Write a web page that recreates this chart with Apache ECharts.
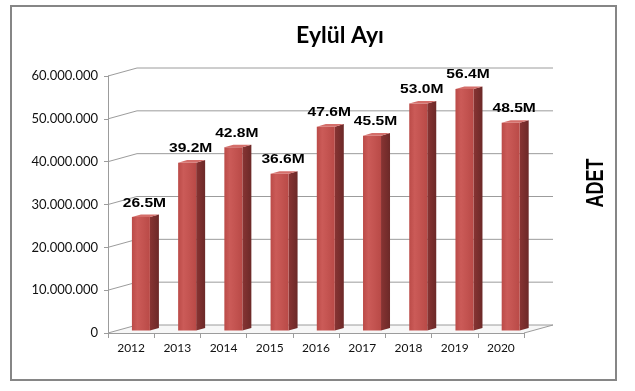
<!DOCTYPE html>
<html>
<head>
<meta charset="utf-8">
<script src="https://cdn.jsdelivr.net/npm/echarts@6/dist/echarts.min.js"></script>
<style>
html,body{margin:0;padding:0;background:#fff;}
#chart{width:635px;height:391px;}
</style>
</head>
<body>
<div id="chart"></div>
<script>
// ---- data ----
var years = ['2012','2013','2014','2015','2016','2017','2018','2019','2020'];
var values = [26500000, 39200000, 42800000, 36600000, 47600000, 45500000, 53000000, 56400000, 48500000];
var yTicks = [0, 10000000, 20000000, 30000000, 40000000, 50000000, 60000000];
var titleText = 'Eylül Ayı';
var axisName = 'ADET';

// ---- 3D look parameters ----
var DEPTH_X = 29, DEPTH_Y = -8;      // back wall offset
var BAR_SHIFT_X = 9.8, BAR_SHIFT_Y = -2.4; // bar front plane offset
var BAR_W = 18, SIDE_X = 9, SIDE_Y = -2.6;
var GRID_COLOR = '#9c9c9c';

function dotted(v){ return String(v).replace(/\B(?=(\d{3})+(?!\d))/g, '.'); }

var chart = echarts.init(document.getElementById('chart'), null, {renderer:'canvas'});

var option = {
  animation: false,
  backgroundColor: '#ffffff',
  grid: {left: 108, right: 111, top: 76, bottom: 58},
  xAxis: {
    type: 'category',
    data: years,
    axisLine: {show: true, lineStyle: {color: GRID_COLOR, width: 1}},
    axisTick: {show: true, length: 5, lineStyle: {color: GRID_COLOR}},
    axisLabel: {color: '#111', fontFamily: 'Lato', fontSize: 12, margin: 9},
    splitLine: {show: false}
  },
  yAxis: {
    type: 'value',
    min: 0, max: 60000000, interval: 10000000,
    axisLine: {show: true, lineStyle: {color: GRID_COLOR, width: 1}},
    axisTick: {show: true, length: 4, lineStyle: {color: GRID_COLOR}},
    axisLabel: {color: '#111', fontFamily: 'Lato', fontSize: 13, margin: 10,
      formatter: function(v){ return dotted(v); }},
    splitLine: {show: false}
  },
  graphic: [
    {type: 'rect', shape: {x: 11, y: 6, width: 605, height: 374},
     style: {fill: 'none', stroke: '#868686', lineWidth: 2}, silent: true},
    {type: 'text', x: 340, y: 36,
     style: {text: titleText, font: 'bold 23px Lato', fill: '#000', align: 'center', verticalAlign: 'middle'}},
    {type: 'text', x: 597, y: 183, rotation: Math.PI/2, scaleY: 1.3,
     style: {text: axisName, font: 'bold 18px "Liberation Sans"', fill: '#000', align: 'center', verticalAlign: 'middle'}}
  ],
  series: [
    {
      type: 'custom',
      name: 'walls',
      z: 1,
      clip: false,
      data: yTicks.map(function(v){ return [0, v]; }),
      renderItem: function(params, api){
        var v = api.value(1);
        var p = api.coord([0, v]);
        var bw = api.size([1, 0])[0];
        var xL = p[0] - bw/2;
        var xR = api.coord([years.length - 1, v])[0] + bw/2;
        var y = p[1];
        var children = [{
          type: 'polyline',
          shape: {points: [[xL, y], [xL + DEPTH_X, y + DEPTH_Y], [xR + DEPTH_X, y + DEPTH_Y]]},
          style: {stroke: GRID_COLOR, lineWidth: 1, fill: null}
        }];
        if (v === 0) {
          children.push({
            type: 'polygon',
            shape: {points: [[xL, y], [xL + DEPTH_X, y + DEPTH_Y], [xR + DEPTH_X, y + DEPTH_Y], [xR, y]]},
            style: {fill: '#f7f7f7', stroke: null}, z2: -1
          });
          children.push({
            type: 'line',
            shape: {x1: xR, y1: y, x2: xR + DEPTH_X, y2: y + DEPTH_Y},
            style: {stroke: GRID_COLOR, lineWidth: 1}
          });
        }
        return {type: 'group', children: children};
      }
    },
    {
      type: 'custom',
      name: 'bars',
      z: 3,
      clip: false,
      data: values.map(function(v, i){ return [i, v]; }),
      renderItem: function(params, api){
        var i = api.value(0), v = api.value(1);
        var top = api.coord([i, v]);
        var base = api.coord([i, 0]);
        var x0 = top[0] + BAR_SHIFT_X - BAR_W/2;
        var x1 = x0 + BAR_W;
        var yT = top[1] + BAR_SHIFT_Y;
        var yB = base[1] + BAR_SHIFT_Y;
        var label = (v / 1000000).toFixed(1) + 'M';
        return {
          type: 'group',
          children: [
            {type: 'polygon',
             shape: {points: [[x1, yT], [x1 + SIDE_X, yT + SIDE_Y], [x1 + SIDE_X, yB + SIDE_Y], [x1, yB]]},
             style: {fill: new echarts.graphic.LinearGradient(0, 0, 1, 0, [
               {offset: 0, color: '#883433'}, {offset: 1, color: '#6c2928'}])}},
            {type: 'rect',
             shape: {x: x0, y: yT, width: BAR_W, height: yB - yT},
             style: {fill: new echarts.graphic.LinearGradient(0, 0, 1, 0, [
               {offset: 0, color: '#bb4b48'}, {offset: 0.3, color: '#cb5b58'},
               {offset: 0.6, color: '#c45451'}, {offset: 1, color: '#b94a47'}])}},
            {type: 'polygon',
             shape: {points: [[x0, yT], [x1, yT], [x1 + SIDE_X, yT + SIDE_Y], [x0 + SIDE_X, yT + SIDE_Y]]},
             style: {fill: '#d46e6a'}},
            {type: 'text', x: (x0 + x1 + SIDE_X) / 2 - 1, y: yT + SIDE_Y - 5, scaleX: 1.2,
             style: {text: label, x: 0, y: 0, font: 'bold 13px "Liberation Sans"', fill: '#000',
                     align: 'center', verticalAlign: 'bottom'}}
          ]
        };
      }
    }
  ]
};
chart.setOption(option);
</script>
</body>
</html>
